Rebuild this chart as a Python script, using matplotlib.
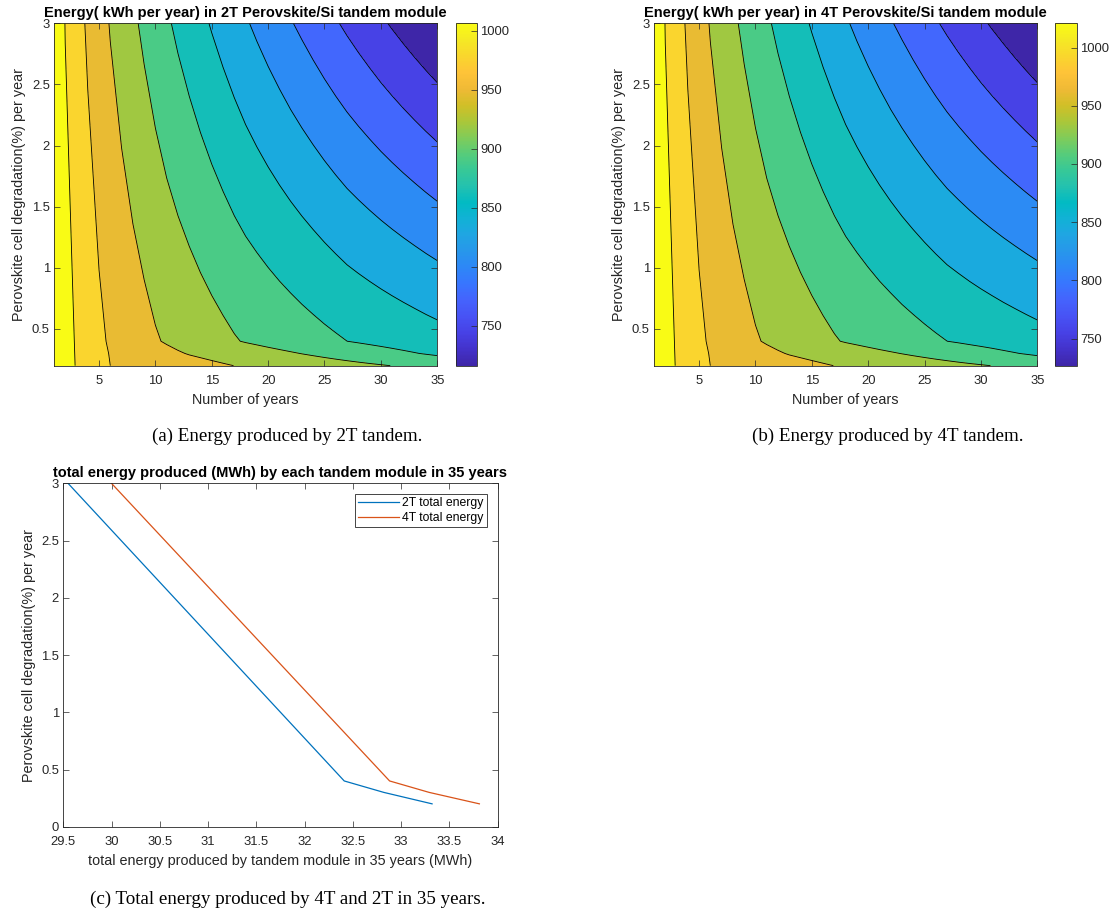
import matplotlib
matplotlib.use("Agg")
import matplotlib.pyplot as plt
import numpy as np
from matplotlib.colors import LinearSegmentedColormap, Normalize
from matplotlib.cm import ScalarMappable
from matplotlib.ticker import FormatStrFormatter

plt.rcParams['font.family'] = ['Liberation Sans', 'DejaVu Sans']
plt.rcParams.update({
    'axes.edgecolor': '0.15', 'axes.linewidth': 0.6,
    'xtick.color': '0.15', 'ytick.color': '0.15',
    'axes.labelcolor': '0.15',
    'xtick.direction': 'in', 'ytick.direction': 'in',
    'xtick.top': True, 'ytick.right': True,
    'xtick.major.size': 4, 'ytick.major.size': 4,
    'xtick.major.width': 0.5, 'ytick.major.width': 0.5,
})

# ---- data -------------------------------------------------------------
years = list(range(1, 36))
degradation = [0.2, 0.3, 0.4, 3.0]

# energy per year (kWh) of the 2T module, one row per degradation rate
e2t_d02 = [1006.2, 991.6, 978.2, 969.9, 961.6, 953.5, 951.1, 948.6, 946.3, 943.8,
           941.4, 939.0, 936.6, 934.2, 931.8, 929.4, 927.0, 925.1, 923.2, 921.3,
           919.4, 917.5, 915.6, 913.7, 911.8, 909.9, 908.0, 906.1, 904.2, 902.4,
           900.5, 898.6, 896.7, 894.8, 892.9]
e2t_d03 = [1006.2, 991.3, 977.7, 968.8, 959.8, 952.4, 948.5, 944.6, 940.8, 936.9,
           933.0, 929.2, 925.9, 923.4, 920.8, 918.2, 915.7, 913.1, 910.6, 908.0,
           905.5, 902.9, 900.3, 897.9, 895.4, 892.9, 890.4, 887.9, 885.4, 883.0,
           880.5, 878.0, 875.5, 873.0, 870.5]
e2t_d04 = [1006.2, 990.9, 977.2, 967.6, 958.1, 950.7, 945.4, 940.0, 934.7, 929.3,
           925.0, 921.2, 917.5, 913.7, 910.0, 906.3, 902.5, 899.3, 896.6, 893.8,
           891.0, 888.3, 885.5, 882.8, 880.0, 877.3, 874.5, 872.4, 870.3, 868.2,
           866.1, 864.0, 861.9, 859.7, 857.6]
e2t_d30 = [1006.2, 979.1, 964.0, 949.8, 937.6, 925.7, 915.4, 905.3, 895.8, 886.8,
           877.9, 869.6, 861.7, 853.9, 846.2, 838.8, 831.5, 824.2, 817.3, 810.5,
           803.8, 797.0, 790.5, 784.0, 777.5, 771.1, 764.8, 758.7, 752.6, 746.4,
           740.4, 734.4, 728.4, 722.4, 716.4]

# energy per year (kWh) of the 4T module
e4t_d02 = [1020.8, 1006.0, 992.4, 984.0, 975.5, 967.3, 964.9, 962.4, 960.0, 957.5,
           955.1, 952.6, 950.2, 947.7, 945.3, 942.9, 940.4, 938.5, 936.6, 934.7,
           932.7, 930.8, 928.9, 926.9, 925.0, 923.1, 921.2, 919.2, 917.3, 915.5,
           913.6, 911.6, 909.7, 907.8, 905.8]
e4t_d03 = [1020.8, 1005.7, 991.9, 982.8, 973.7, 966.2, 962.3, 958.3, 954.4, 950.5,
           946.5, 942.7, 939.3, 936.8, 934.2, 931.5, 929.0, 926.3, 923.8, 921.2,
           918.6, 916.0, 913.4, 910.9, 908.4, 905.8, 903.3, 900.8, 898.2, 895.8,
           893.3, 890.7, 888.2, 885.7, 883.1]
e4t_d04 = [1020.8, 1005.3, 991.4, 981.6, 972.0, 964.5, 959.1, 953.6, 948.3, 942.8,
           938.4, 934.6, 930.8, 927.0, 923.2, 919.4, 915.6, 912.3, 909.6, 906.8,
           903.9, 901.2, 898.3, 895.6, 892.8, 890.0, 887.2, 885.1, 882.9, 880.8,
           878.7, 876.5, 874.4, 872.2, 870.0]
e4t_d30 = [1020.8, 993.3, 978.0, 963.6, 951.2, 939.1, 928.7, 918.4, 908.8, 899.7,
           890.6, 882.2, 874.2, 866.3, 858.5, 851.0, 843.6, 836.2, 829.2, 822.3,
           815.5, 808.6, 802.0, 795.4, 788.8, 782.3, 775.9, 769.7, 763.5, 757.2,
           751.1, 745.1, 739.0, 732.9, 726.8]

# total energy over 35 years (MWh) per degradation rate
total_2t = [33.32, 32.82, 32.41, 29.55]
total_4t = [33.81, 33.29, 32.88, 30.00]

cb_ticks = [750, 800, 850, 900, 950, 1000]

# ---- parula colormap ----------------------------------------------------
parula_rows = [
    (0.2422, 0.1504, 0.6603), (0.2647, 0.1978, 0.7952), (0.2783, 0.2559, 0.8991),
    (0.2810, 0.3228, 0.9579), (0.2699, 0.3892, 0.9906), (0.2206, 0.4603, 0.9973),
    (0.1786, 0.5289, 0.9682), (0.1540, 0.5902, 0.9218), (0.1248, 0.6459, 0.8883),
    (0.0689, 0.6948, 0.8394), (0.0067, 0.7312, 0.7660), (0.1408, 0.7584, 0.6842),
    (0.2161, 0.7843, 0.5923), (0.3406, 0.8008, 0.4789), (0.5044, 0.7993, 0.3480),
    (0.6720, 0.7793, 0.2227), (0.8203, 0.7498, 0.1535), (0.9393, 0.7288, 0.2100),
    (0.9970, 0.7659, 0.2199), (0.9786, 0.8386, 0.1766), (0.9597, 0.9135, 0.1423),
    (0.9769, 0.9839, 0.0805)]
pos = np.linspace(0, 1, len(parula_rows))
parula = LinearSegmentedColormap.from_list('parula', list(zip(pos, parula_rows)))

fig = plt.figure(figsize=(11.1, 9.11), dpi=100)

TICK_FS = 9.4
LABEL_FS = 10.4
TITLE_FS = 10.5


def contour_panel(ax, cax, rows, title):
    z = np.array(rows)
    X, Y = np.meshgrid(years, degradation)
    zmin, zmax = z.min(), z.max()
    levels = np.linspace(zmin, zmax, 12)
    fills = [parula(i / 10) for i in range(11)]
    ax.contourf(X, Y, z, levels=levels, colors=fills)
    ax.contour(X, Y, z, levels=levels[1:-1], colors='k', linewidths=0.6)
    ax.set_xlim(1, 35)
    ax.set_ylim(0.2, 3)
    ax.set_xticks([5, 10, 15, 20, 25, 30, 35])
    ax.set_yticks([0.5, 1, 1.5, 2, 2.5, 3])
    ax.yaxis.set_major_formatter(FormatStrFormatter('%g'))
    ax.tick_params(axis='x', labelsize=TICK_FS, pad=7)
    ax.tick_params(axis='y', labelsize=TICK_FS, pad=3)
    ax.set_xlabel('Number of years', fontsize=LABEL_FS, labelpad=4)
    ax.set_ylabel('Perovskite cell degradation(%) per year', fontsize=LABEL_FS, labelpad=4)
    ax.set_title(title, fontsize=TITLE_FS, fontweight='bold', color='black', pad=4.5)

    sm = ScalarMappable(norm=Normalize(zmin, zmax), cmap=parula)
    cb = fig.colorbar(sm, cax=cax)
    cb.set_ticks(cb_ticks)
    cb.ax.tick_params(direction='in', length=4, width=0.5, labelsize=TICK_FS,
                      left=False, right=True, pad=2.5)
    cb.outline.set_linewidth(0.6)
    cb.outline.set_edgecolor('0.15')


ax1 = fig.add_axes([0.0486, 0.5986, 0.3453, 0.3758])
cax1 = fig.add_axes([0.4105, 0.5986, 0.0189, 0.3758])
contour_panel(ax1, cax1, [e2t_d02, e2t_d03, e2t_d04, e2t_d30],
              'Energy( kWh per year) in 2T Perovskite/Si tandem module')

ax2 = fig.add_axes([0.5892, 0.5986, 0.3453, 0.3758])
cax2 = fig.add_axes([0.9505, 0.5986, 0.0195, 0.3758])
contour_panel(ax2, cax2, [e4t_d02, e4t_d03, e4t_d04, e4t_d30],
              'Energy( kWh per year) in 4T Perovskite/Si tandem module')

# ---- totals panel -----------------------------------------------------
ax3 = fig.add_axes([0.0570, 0.0925, 0.3914, 0.3769])
ax3.plot(total_2t, degradation, color=(0, 0.447, 0.741), lw=0.9, label='2T total energy')
ax3.plot(total_4t, degradation, color=(0.85, 0.325, 0.098), lw=0.9, label='4T total energy')
ax3.set_xlim(29.5, 34)
ax3.set_ylim(0, 3)
ax3.set_xticks(np.arange(29.5, 34.01, 0.5))
ax3.set_yticks(np.arange(0, 3.01, 0.5))
ax3.xaxis.set_major_formatter(FormatStrFormatter('%g'))
ax3.yaxis.set_major_formatter(FormatStrFormatter('%g'))
ax3.tick_params(axis='x', labelsize=TICK_FS, pad=7)
ax3.tick_params(axis='y', labelsize=TICK_FS, pad=3)
ax3.set_xlabel('total energy produced by tandem module in 35 years (MWh)',
               fontsize=LABEL_FS, labelpad=4)
ax3.set_ylabel('Perovskite cell degradation(%) per year', fontsize=LABEL_FS, labelpad=4)
ax3.set_title('total energy produced (MWh) by each tandem module in 35 years',
              fontsize=TITLE_FS, fontweight='bold', color='black', pad=4.5)
leg = ax3.legend(loc='upper right', bbox_to_anchor=(0.4385, 0.4574),
                 bbox_transform=fig.transFigure, borderaxespad=0, fontsize=8.8,
                 fancybox=False, framealpha=1, edgecolor='0.15', handlelength=3.3,
                 handletextpad=0.3, borderpad=0.25, labelspacing=0.25)
leg.get_frame().set_linewidth(0.6)

# ---- captions ---------------------------------------------------------
cap = dict(ha='center', va='center', fontsize=13.7, family='Liberation Serif', color='black')
fig.text(287.5 / 1110, 1 - 436.7 / 911, '(a) Energy produced by 2T tandem.', **cap)
fig.text(888 / 1110, 1 - 436.7 / 911, '(b) Energy produced by 4T tandem.', **cap)
fig.text(287.5 / 1110, 1 - 899.3 / 911, '(c) Total energy produced by 4T and 2T in 35 years.', **cap)

fig.savefig('out.png', dpi=100)
